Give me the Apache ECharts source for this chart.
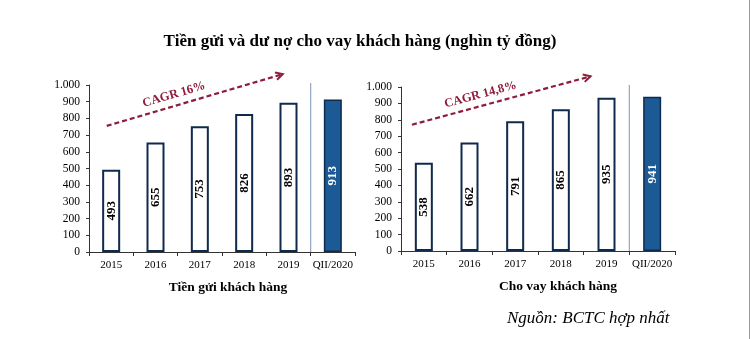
<!DOCTYPE html>
<html>
<head>
<meta charset="utf-8">
<script src="https://cdn.jsdelivr.net/npm/echarts@6/dist/echarts.min.js"></script>
<style>
  html, body { margin: 0; padding: 0; background: #fff; }
  #chart { width: 750px; height: 339px; }
</style>
</head>
<body>
<div id="chart"></div>
<script>
// Customer deposits and customer loans, thousand billion VND
const categories = ['2015', '2016', '2017', '2018', '2019', 'QII/2020'];
const depositValues = [493, 655, 753, 826, 893, 913];
const loanValues = [538, 662, 791, 865, 935, 941];
const yTicks = [0, 100, 200, 300, 400, 500, 600, 700, 800, 900, 1000];
const depositCagr = 'CAGR 16%';
const loanCagr = 'CAGR 14,8%';

const FONT = '"Liberation Serif", "Times New Roman", serif';
const NAVY = '#0e2a4c';
const BLUE = '#1c5a96';
const MAROON = '#8e1c3c';

function barData(values) {
  return values.map((v, i) => {
    const last = i === values.length - 1;
    return {
      value: v,
      itemStyle: last
        ? { color: BLUE, borderColor: NAVY, borderWidth: 1.5 }
        : { color: '#ffffff', borderColor: NAVY, borderWidth: 2 },
      label: { color: last ? '#ffffff' : '#000000' }
    };
  });
}

function fmtThousands(v) {
  return v >= 1000 ? String(v).replace(/\B(?=(\d{3})+(?!\d))/g, '.') : String(v);
}

function xAxisOf(idx) {
  return {
    type: 'category', gridIndex: idx, data: categories,
    axisLine: { lineStyle: { color: '#333', width: 1 } },
    axisTick: { show: true, length: 4, lineStyle: { color: '#333' } },
    axisLabel: { interval: 0, fontFamily: FONT, fontSize: 11, color: '#000', margin: 8 }
  };
}
function yAxisOf(idx) {
  return {
    type: 'value', gridIndex: idx, min: 0, max: 1000, interval: 100,
    axisLine: { show: true, lineStyle: { color: '#333' } },
    axisTick: { show: true, length: 3, lineStyle: { color: '#333' } },
    splitLine: { show: false },
    axisLabel: {
      fontFamily: FONT, fontSize: 11.5, color: '#000', margin: 9,
      formatter: v => yTicks.includes(v) ? fmtThousands(v) : ''
    }
  };
}
function barSeries(idx, values) {
  return {
    type: 'bar', xAxisIndex: idx, yAxisIndex: idx,
    data: barData(values), barWidth: 18,
    label: {
      show: true, position: 'inside', rotate: 90,
      fontFamily: FONT, fontSize: 13, fontWeight: 'bold'
    },
    silent: true
  };
}

const chart = echarts.init(document.getElementById('chart'), null, { renderer: 'canvas' });

chart.setOption({
  animation: false,
  backgroundColor: '#ffffff',
  title: [
    {
      text: 'Tiền gửi và dư nợ cho vay khách hàng (nghìn tỷ đồng)',
      left: 355, top: 28, textAlign: 'center',
      textStyle: { fontFamily: FONT, fontSize: 17, fontWeight: 'bold', color: '#000' }
    },
    {
      text: 'Tiền gửi khách hàng', left: 223, top: 276, textAlign: 'center',
      textStyle: { fontFamily: FONT, fontSize: 13.5, fontWeight: 'bold', color: '#000' }
    },
    {
      text: 'Cho vay khách hàng', left: 553, top: 275, textAlign: 'center',
      textStyle: { fontFamily: FONT, fontSize: 13.5, fontWeight: 'bold', color: '#000' }
    },
    {
      text: 'Nguồn: BCTC hợp nhất', left: 502, top: 305,
      textStyle: { fontFamily: FONT, fontSize: 17, fontStyle: 'italic', fontWeight: 'normal', color: '#000' }
    }
  ],
  grid: [
    { left: 89, right: 395, top: 85, bottom: 87 },
    { left: 401, right: 75, top: 87, bottom: 88 }
  ],
  xAxis: [xAxisOf(0), xAxisOf(1)],
  yAxis: [yAxisOf(0), yAxisOf(1)],
  series: [barSeries(0, depositValues), barSeries(1, loanValues)]
});

// Pixel position for a fractional category index and a value on grid g
function toPixel(g, cat, val) {
  const finder = { gridIndex: g };
  const a = chart.convertToPixel(finder, [0, val]);
  const b = chart.convertToPixel(finder, [1, val]);
  const step = b[0] - a[0];
  return [a[0] + step * cat, a[1]];
}

// Separator before the latest period and the dashed CAGR trend arrows
function decorations() {
  const els = [];
  [0, 1].forEach(g => {
    const top = toPixel(g, 4.5, 1000);
    const bot = toPixel(g, 4.5, 0);
    els.push({
      type: 'line', silent: true,
      shape: { x1: top[0], y1: top[1] - 2, x2: bot[0], y2: bot[1] },
      style: { stroke: '#8ea5c2', lineWidth: 1.2 }
    });
  });

  const arrows = [
    { g: 0, from: [-0.1, 755], to: [3.87, 1065], label: depositCagr },
    { g: 1, from: [-0.26, 770], to: [3.65, 1065], label: loanCagr }
  ];
  arrows.forEach(a => {
    const p1 = toPixel(a.g, a.from[0], a.from[1]);
    const p2 = toPixel(a.g, a.to[0], a.to[1]);
    const dx = p2[0] - p1[0], dy = p2[1] - p1[1];
    const ang = Math.atan2(dy, dx);
    els.push({
      type: 'line', silent: true,
      shape: { x1: p1[0], y1: p1[1], x2: p2[0], y2: p2[1] },
      style: { stroke: MAROON, lineWidth: 2.2, lineDash: [5, 3] }
    });
    const h = 8, spread = 0.5;
    els.push({
      type: 'polyline', silent: true,
      shape: {
        points: [
          [p2[0] - h * Math.cos(ang - spread), p2[1] - h * Math.sin(ang - spread)],
          [p2[0], p2[1]],
          [p2[0] - h * Math.cos(ang + spread), p2[1] - h * Math.sin(ang + spread)]
        ]
      },
      style: { stroke: MAROON, lineWidth: 2, fill: null }
    });
    const t = 0.4;
    const nx = Math.sin(ang), ny = -Math.cos(ang);
    const cx = p1[0] + dx * t + nx * 11, cy = p1[1] + dy * t + ny * 11;
    els.push({
      type: 'text', silent: true,
      x: cx, y: cy, rotation: -ang,
      style: {
        text: a.label, fill: MAROON, align: 'center', verticalAlign: 'middle',
        fontFamily: FONT, fontSize: 12.5, fontWeight: 'bold'
      }
    });
  });

  // thin frame line on the right edge
  els.push({
    type: 'line', silent: true,
    shape: { x1: 749.5, y1: 0, x2: 749.5, y2: 339 },
    style: { stroke: '#9a9a9a', lineWidth: 1 }
  });
  chart.setOption({ graphic: els });
}
decorations();
</script>
</body>
</html>
